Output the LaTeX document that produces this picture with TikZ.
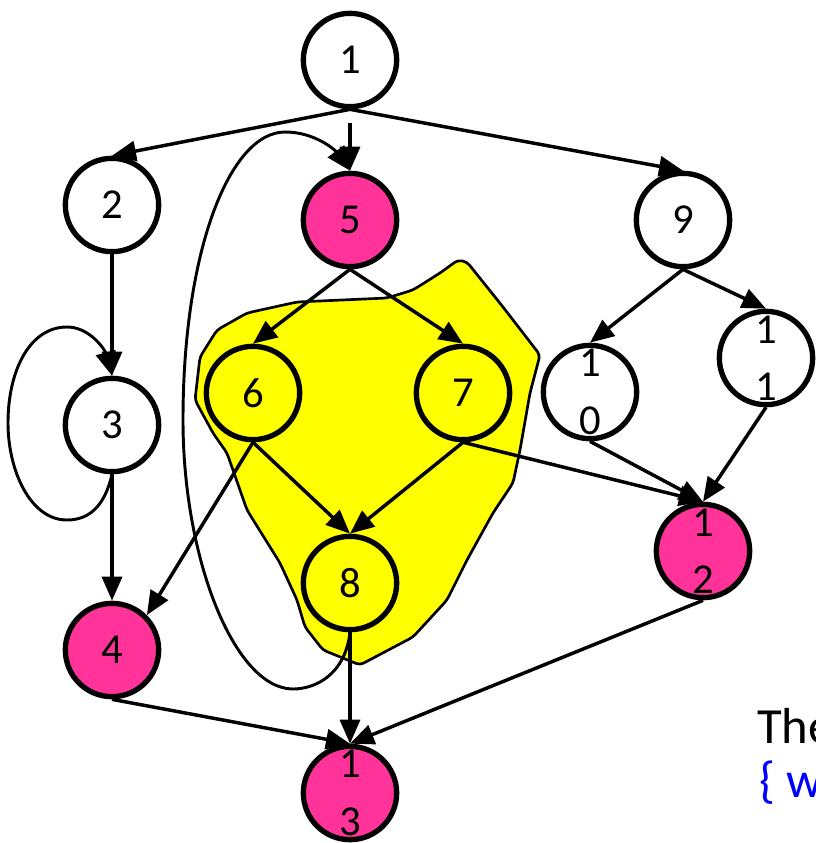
\documentclass[tikz,border=0pt]{standalone}
\usepackage{fontspec}
\setmainfont{Carlito}
\usetikzlibrary{arrows.meta}
\definecolor{hotpink}{HTML}{FF3399}
\definecolor{blobyellow}{HTML}{FFFF00}
\definecolor{txtblue}{HTML}{0000FF}
\begin{document}
\begin{tikzpicture}[x=0.75pt,y=-0.75pt,
 vtx/.style={circle, draw, line width=4pt, minimum size=70pt, inner sep=0pt, font=\fontsize{32}{43}\selectfont, fill=white},
 hot/.style={vtx, fill=hotpink},
 yel/.style={vtx, fill=blobyellow},
 lbl/.style={align=center, font=\fontsize{32}{43}\selectfont, inner sep=0pt},
 edge/.style={line width=2.6pt, -{Triangle[length=18pt,width=15pt]}},
 loopedge/.style={line width=2.2pt, -{Triangle[length=18pt,width=15pt]}},
 blob/.style={fill=blobyellow, draw, line width=2pt, rounded corners=3pt},
 bigtext/.style={anchor=base west, inner sep=0pt, font=\fontsize{38}{46}\selectfont}
]
\useasboundingbox (0,0) rectangle (815,843);

% yellow region
\path[blob] (458,260) -- (467,262) -- (503,307) -- (540,355) -- (530,393) -- (520,450)
  -- (513,483) -- (493,513) -- (467,560) -- (447,600) -- (413,637) -- (360,665)
  -- (323,650) -- (305,627) -- (297,600) -- (280,563) -- (247,510) -- (227,453)
  -- (213,433) -- (195,400) -- (200,357) -- (217,330) -- (247,313) -- (297,302)
  -- (387,298) -- (413,290) -- (440,273) -- cycle;

% nodes
\node[vtx] (n1) at (350,60) {1};
\node[vtx] (n2) at (112,205) {2};
\node[hot] (n5) at (350,220) {5};
\node[vtx] (n9) at (683,220) {9};
\node[vtx] (n3) at (112,425) {3};
\node[yel] (n6) at (253,393) {6};
\node[yel] (n7) at (463,393) {7};
\node[vtx, label={[lbl, name=t10]center:1\\0}] (n10) at (590,392) {};
\node[vtx, label={[lbl, name=t11]center:1\\1}] (n11) at (766,358) {};
\node[yel] (n8) at (350,583) {8};
\node[hot, label={[lbl, name=t12]center:1\\2}] (n12) at (703,551) {};
\node[hot] (n4) at (112,650) {4};
\node[hot, label={[lbl, name=t13]center:1\\3}] (n13) at (350,793) {};

\coordinate (s5) at (350,123);

% edges
\draw[edge] (n1.south) -- (n2.north);
\draw[edge] (n1.south) -- (n9.north);
\draw[edge] (s5) -- (n5.north);
\draw[edge] (n2.south) -- (n3.north);
\draw[edge] (n3.south) -- (n4.north);
\draw[edge] (n5.south) -- (n6.north);
\draw[edge] (n5.south) -- (n7.north);
\draw[edge] (n6.south) -- (n8.north);
\draw[edge] (n7.south) -- (n8.north);
\draw[edge] (n6.south) -- (n4.north east);
\draw[edge] (n7.south) -- (n12.north);
\draw[edge] (n9.south) -- (n10.north);
\draw[edge] (n9.south) -- (n11.north);
\draw[edge] (n10.south) -- (n12.north);
\draw[edge] (n11.south) -- (n12.north);
\draw[edge] (n4.south) -- (n13.north);
\draw[edge] (n8.south) -- (n13.north);
\draw[edge] (n12.south) -- (n13.north);

% loops
\draw[loopedge] (n3.south) .. controls (105,505) and (90,520) .. (67,520)
  .. controls (30,520) and (8,470) .. (8,423)
  .. controls (8,370) and (30,327) .. (67,327)
  .. controls (90,327) and (105,350) .. (n3.north);
\draw[loopedge] (n8.south) .. controls (345,675) and (315,689) .. (293,689)
  .. controls (235,689) and (183,560) .. (183,420)
  .. controls (183,250) and (230,132) .. (285,132)
  .. controls (315,132) and (335,150) .. (n5.north);

% text
\node[bigtext] (the) at (757,743) {The};
\node[bigtext, text=txtblue] (brace) at (759,797) {\{ w};
\end{tikzpicture}
\end{document}
